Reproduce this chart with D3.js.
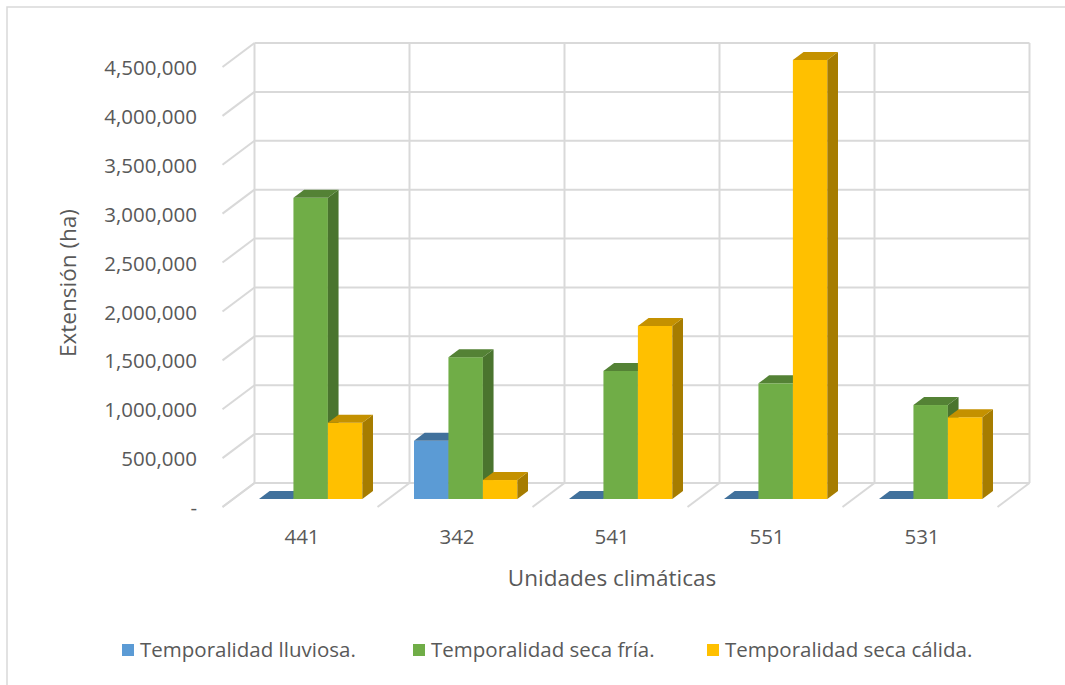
<!DOCTYPE html>
<html>
<head>
<meta charset="utf-8">
<script src="https://cdn.jsdelivr.net/npm/d3@7"></script>
<style>
  html, body { margin: 0; padding: 0; background: #fff; }
  svg { display: block; font-family: "Open Sans", "Noto Sans", sans-serif; }
</style>
</head>
<body>
<svg id="chart" width="1065" height="685"></svg>
<script>
// Climate units and extension (ha) by season
const categories = ["441", "342", "541", "551", "531"];
const seriesNames = ["Temporalidad lluviosa.", "Temporalidad seca fría.", "Temporalidad seca cálida."];
const lluviosa  = [0, 595000, 0, 0, 0];
const secaFria  = [3080000, 1450000, 1310000, 1183000, 961000];
const secaCalida = [780000, 194000, 1770000, 4490000, 836000];
const tickValues = [0, 500000, 1000000, 1500000, 2000000, 2500000, 3000000, 3500000, 4000000, 4500000];

const seriesValues = [lluviosa, secaFria, secaCalida];
const faceColors = [
  { front: "#5B9BD5", top: "#41719C", side: "#3E6B94" },
  { front: "#70AD47", top: "#548235", side: "#4A742E" },
  { front: "#FFC000", top: "#C49100", side: "#A67C00" }
];

const svg = d3.select("#chart");
const textColor = "#595959";
const gridColor = "#D9D9D9";

// chart frame
svg.append("rect")
  .attr("x", 7).attr("y", 7).attr("width", 1080).attr("height", 700)
  .attr("fill", "none").attr("stroke", gridColor).attr("stroke-width", 1.5);

// 3D projection: full depth offset of the plot box
const depthX = 32, depthY = -24;
const barDepthFrom = 1 / 3, barDepthTo = 2 / 3;

const x = d3.scaleBand().domain(categories).range([222.5, 997.5]).paddingInner(0).paddingOuter(0);
const y = d3.scaleLinear().domain([0, 4500000]).range([507, 67]);
const inner = d3.scaleBand().domain(d3.range(seriesNames.length))
  .range([0, x.bandwidth()]).paddingInner(0).paddingOuter(0.75);

const grid = svg.append("g").attr("stroke", gridColor).attr("stroke-width", 2).attr("fill", "none");
const x0 = x.range()[0], x1 = x.range()[1];

// back wall horizontals + side wall diagonals
tickValues.forEach(v => {
  grid.append("line")
    .attr("x1", x0 + depthX).attr("x2", x1 + depthX)
    .attr("y1", y(v) + depthY).attr("y2", y(v) + depthY);
  grid.append("line")
    .attr("x1", x0).attr("y1", y(v))
    .attr("x2", x0 + depthX).attr("y2", y(v) + depthY);
});
// back wall verticals + floor diagonals at category boundaries
const bounds = categories.map(c => x(c)).concat([x1]);
bounds.forEach(bx => {
  grid.append("line")
    .attr("x1", bx + depthX).attr("x2", bx + depthX)
    .attr("y1", y(0) + depthY).attr("y2", y(4500000) + depthY);
  grid.append("line")
    .attr("x1", bx).attr("y1", y(0))
    .attr("x2", bx + depthX).attr("y2", y(0) + depthY);
});

// y axis labels
const yAxis = d3.axisLeft(y)
  .tickValues(tickValues)
  .tickSize(0)
  .tickPadding(0)
  .tickFormat(v => v === 0 ? "-" : d3.format(",")(v));
const yg = svg.append("g").attr("transform", "translate(197,1)").call(yAxis);
yg.select(".domain").remove();
yg.selectAll("text").attr("fill", textColor).style("font-size", "20.5px")
  .style("font-family", "'Open Sans', sans-serif");

// x axis labels
const xAxis = d3.axisBottom(x).tickSize(0).tickPadding(0);
const xg = svg.append("g").attr("transform", "translate(2,529)").call(xAxis);
xg.select(".domain").remove();
xg.selectAll("text").attr("fill", textColor).style("font-size", "20.5px")
  .style("font-family", "'Open Sans', sans-serif");

// bars
const fdx = depthX * barDepthFrom, fdy = depthY * barDepthFrom;
const bdx = depthX * (barDepthTo - barDepthFrom), bdy = depthY * (barDepthTo - barDepthFrom);
const bars = svg.append("g");
categories.forEach((cat, ci) => {
  seriesValues.forEach((vals, si) => {
    const v = vals[ci];
    const col = faceColors[si];
    const xl = x(cat) + inner(si) + fdx;
    const xr = xl + inner.bandwidth();
    const yb = y(0) + fdy;
    const yt = y(v) + fdy;
    const g = bars.append("g");
    if (yb - yt > 0.1) {
      g.append("rect").attr("x", xl).attr("y", yt).attr("width", xr - xl).attr("height", yb - yt)
        .attr("fill", col.front);
      g.append("path")
        .attr("d", `M${xr},${yt}L${xr + bdx},${yt + bdy}L${xr + bdx},${yb + bdy}L${xr},${yb}Z`)
        .attr("fill", col.side);
    }
    g.append("path")
      .attr("d", `M${xl},${yt}L${xr},${yt}L${xr + bdx},${yt + bdy}L${xl + bdx},${yt + bdy}Z`)
      .attr("fill", col.top);
  });
});

// axis titles
svg.append("text")
  .attr("x", 612).attr("y", 586)
  .attr("text-anchor", "middle")
  .attr("fill", textColor)
  .style("font-size", "22.5px")
  .text("Unidades climáticas");
svg.append("text")
  .attr("transform", "translate(76,283) rotate(-90)")
  .attr("text-anchor", "middle")
  .attr("fill", textColor)
  .style("font-size", "22.5px")
  .text("Extensión (ha)");

// legend
const legendX = [122, 413, 707];
const legend = svg.append("g");
seriesNames.forEach((name, i) => {
  legend.append("rect")
    .attr("x", legendX[i]).attr("y", 644).attr("width", 12).attr("height", 12)
    .attr("fill", faceColors[i].front);
  legend.append("text")
    .attr("x", legendX[i] + 18).attr("y", 657)
    .attr("fill", textColor)
    .style("font-size", "20.5px")
    .text(name);
});
</script>
</body>
</html>
